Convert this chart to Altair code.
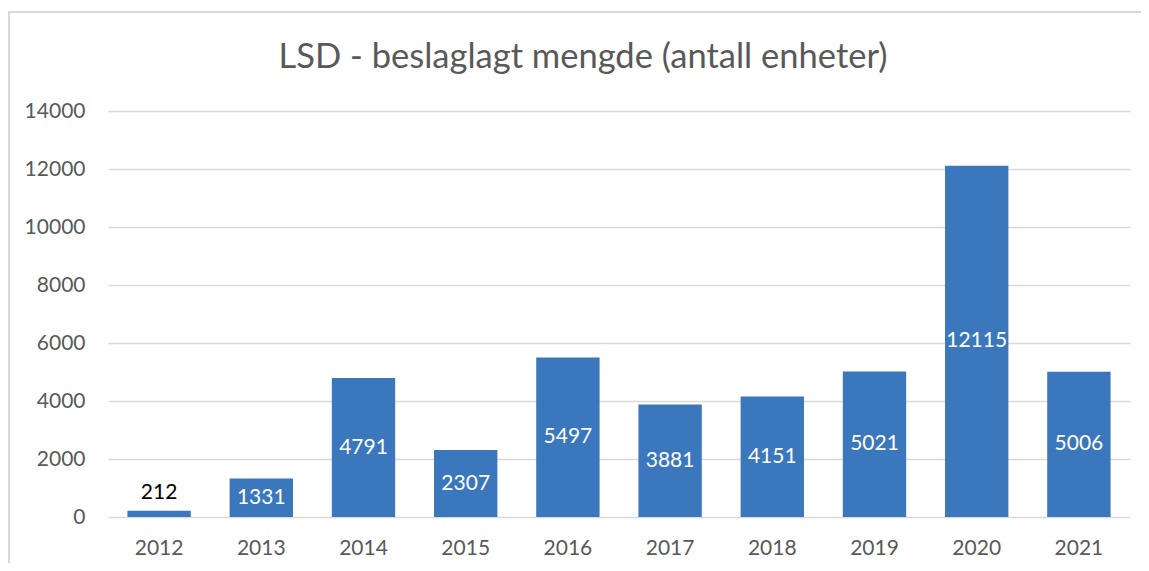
import altair as alt
import pandas as pd

years = ["2012", "2013", "2014", "2015", "2016", "2017", "2018", "2019", "2020", "2021"]
values = [212, 1331, 4791, 2307, 5497, 3881, 4151, 5021, 12115, 5006]

df = pd.DataFrame({"year": years, "value": values})

FONT = "Lato"
GREY = "#595959"
BLUE = "#3a77bd"

x = alt.X("year:N", title=None, sort=years,
          scale=alt.Scale(paddingInner=0.38, paddingOuter=0.19),
          axis=alt.Axis(labelAngle=0, ticks=False, domain=False, labelPadding=20,
                        labelFontSize=21, labelColor=GREY, labelFont=FONT))
y = alt.Y("value:Q", title=None,
          scale=alt.Scale(domain=[0, 14000], nice=False),
          axis=alt.Axis(values=list(range(0, 14001, 2000)), format="d", ticks=False, domain=False,
                        labelPadding=23, labelFontSize=21, labelColor=GREY, labelFont=FONT,
                        gridColor="#d9d9d9", gridWidth=1.5))

base = alt.Chart(df)
bars = base.mark_bar(color=BLUE).encode(x=x, y=y)

inside = base.transform_filter("datum.value >= 1000").transform_calculate(
    mid="datum.value / 2"
).mark_text(color="white", font=FONT, fontSize=21, baseline="middle").encode(
    x=alt.X("year:N", sort=years), y=alt.Y("mid:Q"), text=alt.Text("value:Q", format="d"))

above = base.transform_filter("datum.value < 1000").mark_text(
    color="black", font=FONT, fontSize=21, baseline="bottom", dy=-8
).encode(x=alt.X("year:N", sort=years), y=alt.Y("value:Q"), text=alt.Text("value:Q", format="d"))

frame_top = alt.Chart(df).mark_rule(color="#d9d9d9", strokeWidth=1.5).encode(
    x=alt.value(-99.5), x2=alt.value(1100), y=alt.value(-99))
frame_left = alt.Chart(df).mark_rule(color="#d9d9d9", strokeWidth=1.5).encode(
    x=alt.value(-99.2), y=alt.value(-99), y2=alt.value(500))

chart = alt.layer(frame_top, frame_left, bars, inside, above).properties(
    width=1022, height=406,
    autosize=alt.AutoSizeParams(type="none"),
    padding={"left": 100, "top": 103, "right": 11, "bottom": 46},
    title=alt.TitleParams("LSD - beslaglagt mengde (antall enheter)", font=FONT,
                          fontSize=34.5, fontWeight="normal", color=GREY,
                          anchor="middle", dx=-36, offset=-64),
).configure_view(stroke=None).configure_axis(labelFont=FONT)

chart.save("out.html", embed_options={"renderer": "svg", "actions": False})
